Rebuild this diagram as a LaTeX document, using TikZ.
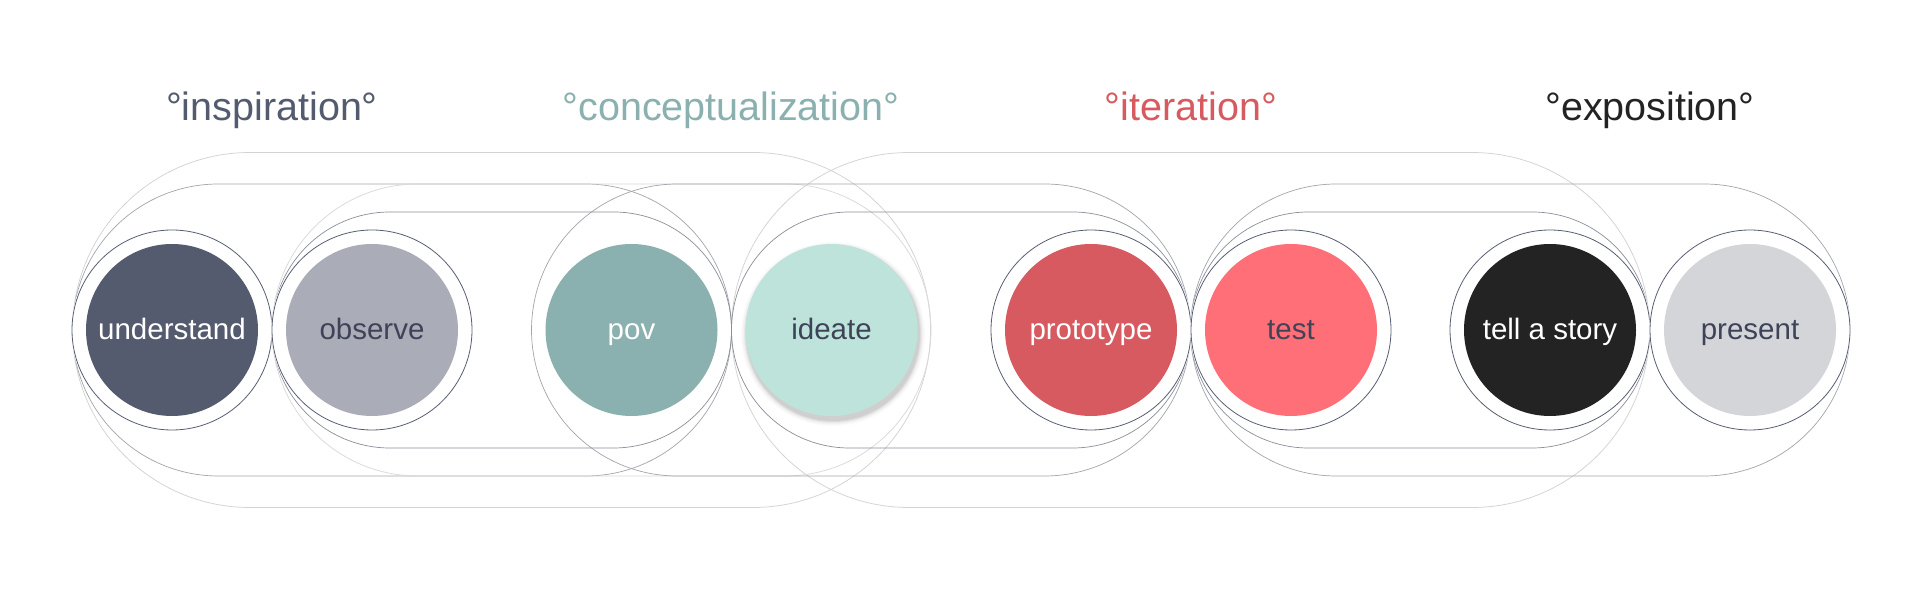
\documentclass[tikz,border=0pt]{standalone}
\usepackage{fontspec}
\setmainfont{Liberation Sans}
\definecolor{cUnd}{HTML}{545B6F}
\definecolor{cObs}{HTML}{AAACB8}
\definecolor{cPov}{HTML}{8AB0AF}
\definecolor{cIde}{HTML}{BEE3DB}
\definecolor{cPro}{HTML}{D75A61}
\definecolor{cTes}{HTML}{FF6F78}
\definecolor{cTel}{HTML}{232323}
\definecolor{cPre}{HTML}{D4D5D9}
\definecolor{cDark}{HTML}{3E4357}
\definecolor{capOuter}{HTML}{D3D3D3}
\definecolor{capMidLight}{HTML}{DADADA}
\definecolor{capMid}{HTML}{A3A5AE}
\definecolor{capInner}{HTML}{8B8E99}
\definecolor{ringC}{HTML}{585E72}
\newcommand\capsulepath[4]{% style, x1, x2, half height
  \draw[#1] ({#2+#4},#4) -- ({#3-#4},#4)
    arc[start angle=90,end angle=-90,radius=#4pt]
    -- ({#2+#4},-#4)
    arc[start angle=270,end angle=90,radius=#4pt] -- cycle;}
\tikzset{
  outercap/.style={draw=capOuter, line width=0.75pt},
  midcap/.style={draw=capMid, line width=0.7pt},
  midlightcap/.style={draw=capMidLight, line width=0.75pt},
  innercap/.style={draw=capInner, line width=0.7pt},
  ringline/.style={draw=ringC, line width=0.8pt},
  stage/.style={circle, minimum size=172pt, inner sep=0pt, text height=20pt, text depth=0pt,
    font=\fontsize{29.5}{31}\selectfont},
  phase/.style={anchor=base, font=\fontsize{39.5}{42}\selectfont}
}
\begin{document}
\begin{tikzpicture}[x=1pt,y=1pt]
\useasboundingbox (0,-261) rectangle (1920,330);
\fill[white] (0,-261) rectangle (1920,330);

% titles
\node[phase, text=cUnd] (t1) at (272,209) {°inspiration°};
\node[phase, text=cPov] (t2) at (731,209) {°conceptualization°};
\node[phase, text=cPro] (t3) at (1191,209) {°iteration°};
\node[phase, text=cTel] (t4) at (1650,209) {°exposition°};

% capsules
\capsulepath{outercap}{72.5}{930.5}{177.5}
\capsulepath{outercap}{731.5}{1649.5}{177.5}
\capsulepath{midcap}{72.5}{731.5}{146}
\capsulepath{midlightcap}{272}{931}{146}
\capsulepath{midcap}{531.5}{1190.5}{146}
\capsulepath{midcap}{1190.5}{1850}{146}
\capsulepath{innercap}{272}{731.5}{118}
\capsulepath{innercap}{731.5}{1190.5}{118}
\capsulepath{innercap}{1190.5}{1650}{118}

% white halos and rings
\foreach \cx in {172,372,1091,1291,1550,1750}{
  \fill[white] (\cx,0) circle[radius=101pt];
  \draw[ringline] (\cx,0) circle[radius=100pt];
}

% soft shadow of ideate
\foreach \r/\o in {92/0.02,90.5/0.03,89/0.04,88/0.05,87/0.06}{
  \fill[black, opacity=\o] (833,-4) circle[radius=\r pt];
}

% stages
\node[stage, fill=cUnd, text=white] (understand) at (172,0) {understand};
\node[stage, fill=cObs, text=cDark] (observe) at (372,0) {observe};
\node[stage, fill=cPov, text=white] (pov) at (631.5,0) {pov};
\node[stage, fill=cIde, text=cDark] (ideate) at (831.5,0) {ideate};
\node[stage, fill=cPro, text=white] (prototype) at (1091,0) {prototype};
\node[stage, fill=cTes, text=cDark] (test) at (1291,0) {test};
\node[stage, fill=cTel, text=white] (tell) at (1550,0) {tell a story};
\node[stage, fill=cPre, text=cDark] (present) at (1750,0) {present};
\end{tikzpicture}
\end{document}
